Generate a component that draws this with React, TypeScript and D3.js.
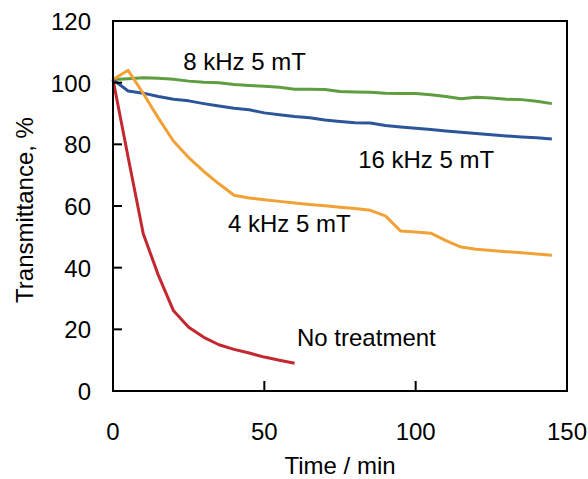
import React from "react";
import * as d3 from "d3";

// time axis (min), 5 min steps
const times = [0, 5, 10, 15, 20, 25, 30, 35, 40, 45, 50, 55, 60, 65, 70, 75, 80, 85, 90, 95, 100, 105, 110, 115, 120, 125, 130, 135, 140, 145];

const green8k = [101, 101.3, 101.6, 101.4, 101.1, 100.5, 100.1, 100, 99.4, 99.1, 98.8, 98.5, 97.9, 97.9, 97.8, 97.1, 97, 96.9, 96.6, 96.5, 96.5, 96.1, 95.5, 94.8, 95.3, 95, 94.6, 94.5, 94, 93.2];
const blue16k = [101, 97.3, 96.6, 95.5, 94.6, 94.1, 93.2, 92.4, 91.7, 91.2, 90.2, 89.6, 89, 88.6, 87.9, 87.4, 87, 86.9, 86.1, 85.6, 85.2, 84.8, 84.3, 83.9, 83.5, 83.1, 82.7, 82.4, 82.1, 81.7];
const orange4k = [101, 104, 96.5, 88.5, 81, 75.7, 71.2, 67.2, 63.5, 62.6, 62, 61.5, 61, 60.5, 60.1, 59.6, 59.2, 58.6, 56.8, 51.9, 51.6, 51.2, 48.8, 46.7, 46, 45.6, 45.2, 44.8, 44.4, 44];
const redTimes = [0, 5, 10, 15, 20, 25, 30, 35, 40, 45, 50, 55, 60];
const redNone = [101, 75.8, 51, 37.5, 26, 20.7, 17.4, 15, 13.5, 12.3, 11, 10, 9];

const xTicks = [0, 50, 100, 150];
const yTicks = [0, 20, 40, 60, 80, 100, 120];

const series = [
  { name: "8 kHz 5 mT", t: times, v: green8k, color: "#5e9e40" },
  { name: "16 kHz 5 mT", t: times, v: blue16k, color: "#2d5599" },
  { name: "4 kHz 5 mT", t: times, v: orange4k, color: "#f1a136" },
  { name: "No treatment", t: redTimes, v: redNone, color: "#c3272f" },
];

// label anchors in data units
const labels = [
  { text: "8 kHz 5 mT", t: 23.2, v: 104 },
  { text: "16 kHz 5 mT", t: 81, v: 72.2 },
  { text: "4 kHz 5 mT", t: 38, v: 51.6 },
  { text: "No treatment", t: 60.8, v: 14.5 },
];

export default function App() {
  const W = 588, H = 479;
  const left = 113, right = 567, top = 21, bottom = 391;
  const font = "'Liberation Sans', Arial, sans-serif";

  const x = d3.scaleLinear().domain([0, 150]).range([left, right]);
  const y = d3.scaleLinear().domain([0, 120]).range([bottom, top]);

  const line = d3.line<[number, number]>()
    .x(d => x(d[0]))
    .y(d => y(d[1]));

  return (
    <svg width={W} height={H} style={{ position: "absolute", left: 0, top: 0 }} fontFamily={font}>
      <rect x={0} y={0} width={W} height={H} fill="#fff" />
      {series.map(s => (
        <path key={s.name}
          d={line(s.t.map((t, i) => [t, s.v[i]] as [number, number])) || ""}
          fill="none" stroke={s.color} strokeWidth={3} strokeLinejoin="round" />
      ))}
      <rect x={left} y={top} width={right - left} height={bottom - top} fill="none" stroke="#000" strokeWidth={2} />
      {yTicks.map(v => (
        <g key={"y" + v}>
          {v > 0 && v < 120 && <line x1={left} x2={left + 9} y1={y(v)} y2={y(v)} stroke="#000" strokeWidth={2} />}
          <text x={91} y={y(v) + 9} textAnchor="end" fontSize={24} fill="#000">{v}</text>
        </g>
      ))}
      {xTicks.map(t => (
        <g key={"x" + t}>
          {t > 0 && t < 150 && <line x1={x(t)} x2={x(t)} y1={bottom} y2={bottom - 10} stroke="#000" strokeWidth={2} />}
          <text x={x(t)} y={440} textAnchor="middle" fontSize={24} fill="#000">{t}</text>
        </g>
      ))}
      <text x={(left + right) / 2} y={474} textAnchor="middle" fontSize={24} fill="#000">Time / min</text>
      <text transform={`translate(33, 210) rotate(-90)`} textAnchor="middle" fontSize={24} fill="#000">Transmittance, %</text>
      {labels.map(l => (
        <text key={l.text} x={x(l.t)} y={y(l.v)} fontSize={24} fill="#000">{l.text}</text>
      ))}
    </svg>
  );
}
